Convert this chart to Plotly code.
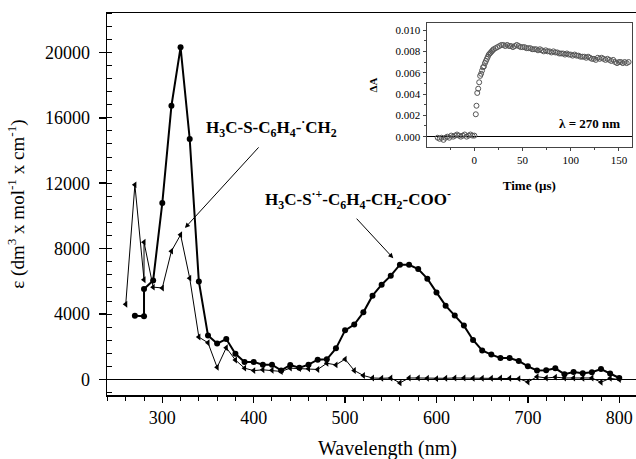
import plotly.graph_objects as go

# ---- main spectra (wavelength in nm, epsilon in dm3 mol-1 cm-1) ----
wl_circ = [270, 280, 280, 290, 300, 310, 320, 330, 340, 350, 360, 370, 380, 390, 400,
           410, 420, 430, 440, 450, 460, 470, 480, 490, 500, 510, 520, 530, 540, 550,
           560, 570, 580, 590, 600, 610, 620, 630, 640, 650, 660, 670, 680, 690, 700,
           710, 720, 730, 740, 750, 760, 770, 780, 790, 800]
eps_circ = [3900, 3870, 5540, 6060, 10790, 16730, 20300, 14700, 6000, 2700, 2200, 2480, 1580, 1080, 1080,
            915, 915, 560, 890, 730, 915, 1220, 1240, 1910, 3010, 3360, 4110, 5130, 5800, 6350,
            7020, 7020, 6760, 6170, 5330, 4520, 3910, 3300, 2420, 1780, 1530, 1320, 1320, 1140, 810,
            560, 570, 690, 330, 460, 390, 450, 650, 380, 100]

wl_tri = [260, 270, 280, 280, 290, 300, 310, 320, 330, 340, 350, 360, 370, 380, 390, 400,
          410, 420, 430, 440, 450, 460, 470, 480, 490, 500, 510, 520, 530, 540, 550,
          560, 570, 580, 590, 600, 610, 620, 630, 640, 650, 660, 670, 680, 690, 700,
          710, 720, 730, 740, 750, 760, 770, 780, 790, 800]
eps_tri = [4600, 11900, 6100, 8400, 5650, 5600, 7850, 8850, 6200, 2600, 2250, 750, 1950, 1200, 700, 550,
           600, 570, 500, 700, 680, 660, 620, 1000, 900, 1250, 560, 250, 100, 80, 100,
           -200, 100, 100, 80, 60, 80, 100, 100, 80, 80, 80, 100, 80, 60, -150,
           180, 100, 150, 100, 100, 80, 100, -160, 80, 0]

# ---- inset kinetic trace ----
t_us = [-38, -36, -34, -32, -30, -28, -26, -24, -22, -20, -18, -16, -14, -12, -10, -8, -6, -4, -2, 0,
        1.5, 2.2, 3, 4, 5, 6, 7, 8, 9, 10, 11, 12, 13, 14, 15, 16, 17, 18, 19, 20,
        22, 24, 26, 28, 30, 32, 34, 36, 38, 40, 42, 44, 46, 48, 50,
        52, 54, 56, 58, 60, 62, 64, 66, 68, 70, 72, 74, 76, 78, 80, 82, 84, 86, 88, 90,
        92, 94, 96, 98, 100, 102, 104, 106, 108, 110, 112, 114, 116, 118, 120, 122, 124, 126, 128, 130,
        132, 134, 136, 138, 140, 142, 144, 146, 148, 150, 152, 154, 156, 158, 160]
dA = [-0.0001, -0.0002, -0.0001, -0.0003, -0.0001, 0.0000, -0.0001, 0.0001, 0.0000, 0.0001,
      0.0002, 0.0001, 0.0000, 0.0001, 0.0002, 0.0000, 0.0001, 0.0002, 0.0001, 0.0001,
      0.0021, 0.0029, 0.0041, 0.0045, 0.0051, 0.0057, 0.0059, 0.0062, 0.0065, 0.0066,
      0.0069, 0.0071, 0.0073, 0.0075, 0.0077, 0.0078, 0.0079, 0.0080, 0.0081, 0.0082,
      0.0083, 0.0084, 0.0085, 0.0086, 0.0086, 0.0085, 0.0086, 0.0085, 0.0085, 0.0084,
      0.0085, 0.0086, 0.0085, 0.0084, 0.0084,
      0.0084, 0.0083, 0.0083, 0.0083, 0.0082, 0.0082, 0.0082, 0.0081, 0.0082, 0.0081,
      0.0080, 0.0081, 0.0080, 0.0080, 0.0079, 0.0080, 0.0079, 0.0079, 0.0078, 0.0078,
      0.0078, 0.0077, 0.0078, 0.0077, 0.0077, 0.0076, 0.0077, 0.0076, 0.0076, 0.0075,
      0.0075, 0.0075, 0.0074, 0.0075, 0.0074, 0.0073, 0.0073, 0.0072, 0.0074, 0.0073,
      0.0074, 0.0073, 0.0072, 0.0073, 0.0072, 0.0071, 0.0072, 0.0070, 0.0069, 0.0070,
      0.0070, 0.0069, 0.0070, 0.0069, 0.0070]

SERIF = "Liberation Serif"

fig = go.Figure()
fig.add_trace(go.Scatter(x=wl_tri, y=eps_tri, mode="lines+markers",
                         line=dict(color="black", width=1),
                         marker=dict(symbol="triangle-left", size=6, color="black"),
                         xaxis="x", yaxis="y"))
fig.add_trace(go.Scatter(x=wl_circ, y=eps_circ, mode="lines+markers",
                         line=dict(color="black", width=2),
                         marker=dict(symbol="circle", size=6, color="black"),
                         xaxis="x", yaxis="y"))
fig.add_trace(go.Scatter(x=t_us, y=dA, mode="markers",
                         marker=dict(symbol="circle-open", size=5, color="#555555",
                                     line=dict(width=1, color="#555555")),
                         xaxis="x2", yaxis="y2"))

xr = [239.5, 818.3]
yr = [-940, 22400]

fig.update_layout(
    width=636, height=459,
    margin=dict(l=107, r=0, t=13, b=64, autoexpand=False),
    paper_bgcolor="white", plot_bgcolor="white",
    showlegend=False,
    font=dict(family=SERIF, color="black"),
    xaxis=dict(range=xr, domain=[0, 1], anchor="y", automargin=False, showline=True,
               linecolor="black", linewidth=1.5, mirror=True, ticks="outside", ticklen=6,
               tickwidth=1.5, tickcolor="black", tick0=0, dtick=100, tickformat="d",
               minor=dict(dtick=20, ticks="outside", ticklen=4, tickwidth=1, tickcolor="black"),
               tickfont=dict(size=18, family=SERIF), showgrid=False, zeroline=False),
    xaxis3=dict(range=xr, overlaying="x", anchor="y", side="bottom", showline=False,
                automargin=False,
                ticks="inside", ticklen=6, tickwidth=1.5, tickcolor="black", tick0=0, dtick=100,
                minor=dict(dtick=20, ticks="inside", ticklen=3, tickwidth=1, tickcolor="black"),
                showticklabels=False, showgrid=False, zeroline=False),
    yaxis=dict(range=yr, domain=[0, 1], anchor="x", automargin=False, showline=True,
               linecolor="black", linewidth=1.5, ticks="outside", ticklen=7, tickwidth=1.5,
               tickcolor="black", tick0=0, dtick=4000, tickformat="d", ticklabelstandoff=5,
               minor=dict(dtick=800, ticks="inside", ticklen=5, tickwidth=1, tickcolor="black"),
               tickfont=dict(size=18, family=SERIF), showgrid=False,
               zeroline=True, zerolinecolor="black", zerolinewidth=1.5,
               title=dict(text="ε (dm<sup>3</sup> x mol<sup>-1</sup> x cm<sup>-1</sup>)",
                          font=dict(size=19, family=SERIF))),
    yaxis3=dict(range=yr, overlaying="y", anchor="x", side="left", showline=False,
                automargin=False,
                ticks="inside", ticklen=7, tickwidth=1.5, tickcolor="black", tick0=0, dtick=4000,
                showticklabels=False, showgrid=False, zeroline=False),
    xaxis2=dict(range=[-49.4, 163.5], domain=[0.6044, 0.9924], anchor="y2", automargin=False,
                showline=True, linecolor="#444444", linewidth=1.2, mirror=True,
                ticks="outside", ticklen=3, tickwidth=1, tickcolor="#444444", tick0=0, dtick=50,
                minor=dict(dtick=25, ticks="outside", ticklen=2, tickcolor="#444444"),
                tickfont=dict(size=11, family=SERIF), showgrid=False, zeroline=False,
                title=dict(text="<b>Time (µs)</b>", font=dict(size=13, family=SERIF))),
    yaxis2=dict(range=[-0.00097, 0.01066], domain=[0.6492, 0.9738], anchor="x2", automargin=False,
                showline=True, linecolor="#444444", linewidth=1.2, mirror=True,
                ticks="outside", ticklen=3, tickwidth=1, tickcolor="#444444", tick0=0, dtick=0.002,
                tickformat=".3f",
                minor=dict(dtick=0.001, ticks="outside", ticklen=2, tickcolor="#444444"),
                tickfont=dict(size=11, family=SERIF), showgrid=False,
                zeroline=True, zerolinecolor="black", zerolinewidth=1,
                title=dict(text="<b>ΔA</b>", font=dict(size=11, family=SERIF))),
)

# x-axis title placed as paper text so it sits at the reference height
fig.add_annotation(x=0.531, y=-0.139, xref="paper", yref="paper", xanchor="center",
                   yanchor="middle", text="Wavelength (nm)", showarrow=False,
                   font=dict(size=20, family=SERIF, color="black"))

fig.add_annotation(x=345.6, y=15430, xref="x", yref="y", xanchor="left", yanchor="middle",
                   text="<b>H<sub>3</sub>C-S-C<sub>6</sub>H<sub>4</sub>-<sup>·</sup>CH<sub>2</sub></b>",
                   showarrow=False, font=dict(size=17, family=SERIF, color="black"))
fig.add_annotation(x=410.2, y=10980, xref="x", yref="y", xanchor="left", yanchor="middle",
                   text="<b>H<sub>3</sub>C-S<sup>·+</sup>-C<sub>6</sub>H<sub>4</sub>-CH<sub>2</sub>-COO<sup>-</sup></b>",
                   showarrow=False, font=dict(size=17, family=SERIF, color="black"))
fig.add_annotation(x=324.8, y=9270, xref="x", yref="y", text="", showarrow=True,
                   ax=75, ay=-82, arrowhead=2, arrowsize=1, arrowwidth=1, arrowcolor="black",
                   standoff=0)
fig.add_annotation(x=552.7, y=7420, xref="x", yref="y", text="", showarrow=True,
                   ax=-38, ay=-41, arrowhead=2, arrowsize=1, arrowwidth=1, arrowcolor="black",
                   standoff=0)
fig.add_annotation(x=153, y=0.00128, xref="x2", yref="y2", xanchor="right", yanchor="middle",
                   text="<b>λ = 270 nm</b>", showarrow=False,
                   font=dict(size=13, family=SERIF, color="black"))

# remove the browser's default 8px page margin so the 636x459 figure fills the window
fig.write_html("out.html",
               config={"displayModeBar": False, "staticPlot": True},
               post_script="document.body.style.margin='0';document.body.style.overflow='hidden';")
